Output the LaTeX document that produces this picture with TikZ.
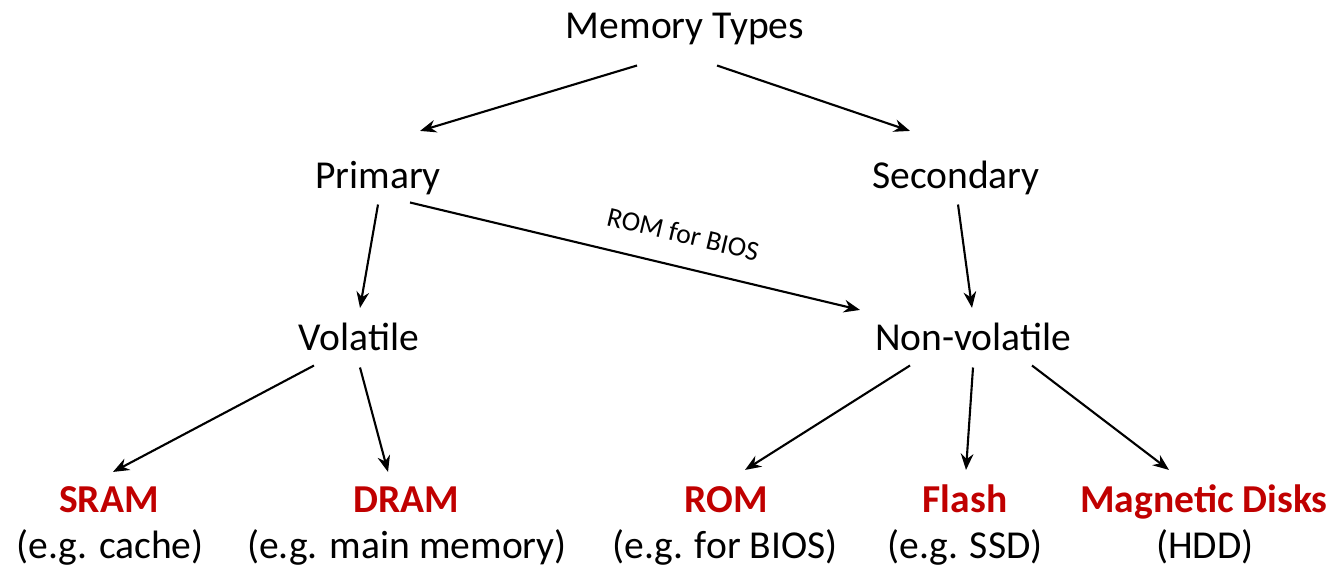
\documentclass[tikz,border=0pt]{standalone}
\usepackage{fontspec}
\setmainfont{Carlito}
\usepackage{xcolor}
\usetikzlibrary{arrows.meta,positioning}
\definecolor{memred}{HTML}{C00000}

\begin{document}
\begin{tikzpicture}[
  x=0.01cm, y=-0.01cm,
  term/.style={inner sep=0pt, anchor=base, font=\fontsize{11.25pt}{13.1pt}\selectfont, text height=0.75em, text depth=0.25em},
  leaf/.style={term, text=memred, font=\fontsize{11.25pt}{13.1pt}\selectfont\bfseries},
  arrow/.style={-{Stealth[length=4.6pt,width=3.6pt]}, line width=0.6pt}
]
\useasboundingbox (0,0) rectangle (1343,587);

\node[term] (mem) at (685,38) {Memory Types};
\node[term] (prim) at (378,188) {Primary};
\node[term] (sec) at (956,188) {Secondary};
\node[term] (vol) at (359,350) {Volatile};
\node[term] (nonvol) at (973,350) {Non-volatile};

\node[leaf] (sram) at (109,512) {SRAM};
\node[term] (sramnote) at (110,558) {(e.g. cache)};
\node[leaf] (dram) at (406,512) {DRAM};
\node[term] (dramnote) at (407,558) {(e.g. main memory)};
\node[leaf] (rom) at (726,512) {ROM};
\node[term] (romnote) at (725,558) {(e.g. for BIOS)};
\node[leaf] (flash) at (965,512) {Flash};
\node[term] (flashnote) at (965,558) {(e.g. SSD)};
\node[leaf] (mag) at (1204,512) {Magnetic Disks};
\node[term] (magnote) at (1205,558) {(HDD)};

\draw[arrow] ([shift={(-48,18)}]mem.south) -- ([shift={(42,-30)}]prim.north);
\draw[arrow] ([shift={(32,18)}]mem.south) -- ([shift={(-46,-30)}]sec.north);
\draw[arrow] ([shift={(0,7)}]prim.south) -- ([shift={(1,-15)}]vol.north);
\draw[arrow] ([shift={(32,5)}]prim.south) -- ([shift={(-113,-13)}]nonvol.north)
  node[pos=0.59, above=3pt, sloped, font=\fontsize{7.9pt}{9pt}\selectfont] {ROM for BIOS};
\draw[arrow] ([shift={(2,7)}]sec.south) -- ([shift={(-1,-15)}]nonvol.north);
\draw[arrow] ([shift={(-45,6)}]vol.south) -- ([shift={(4,-13)}]sram.north);
\draw[arrow] ([shift={(1,8)}]vol.south) -- ([shift={(-18,-13)}]dram.north);
\draw[arrow] ([shift={(-63,6)}]nonvol.south) -- ([shift={(19,-15)}]rom.north);
\draw[arrow] ([shift={(0,8)}]nonvol.south) -- ([shift={(1,-15)}]flash.north);
\draw[arrow] ([shift={(59,6)}]nonvol.south) -- ([shift={(-35,-15)}]mag.north);
\end{tikzpicture}
\end{document}
